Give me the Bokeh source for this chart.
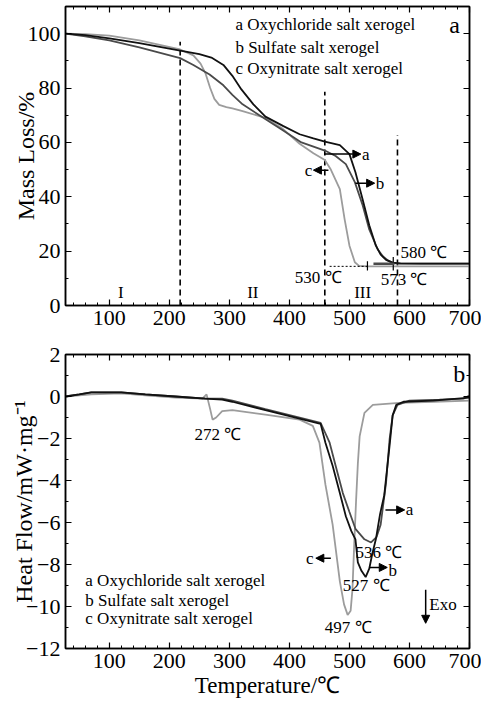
from bokeh.plotting import figure
from bokeh.layouts import column
from bokeh.models import (LinearAxis, FixedTicker, Arrow, NormalHead, Label,
                          CustomJSTickFormatter)
from bokeh.embed import file_html
from bokeh.resources import INLINE

FONT = "Liberation Serif"

# ---------------- data: TG (mass loss, %) ----------------
tg_temp_a = [27, 60, 100, 150, 218, 250, 270, 290, 305, 320, 340, 360, 390, 417, 440,
             459, 484, 500, 510, 522, 533, 544, 552, 561, 572, 585, 620, 660, 700]
tg_mass_a = [100, 99.5, 98.3, 96.5, 93.8, 92.5, 91.2, 88.5, 84.5, 79.5, 74, 69.5, 66, 63, 61.5,
             60.3, 59, 55.7, 49, 39, 29.5, 22, 18.7, 16.8, 15.8, 15.5, 15.4, 15.4, 15.4]

tg_temp_b = [27, 60, 100, 150, 218, 240, 267, 290, 305, 322, 350, 389, 420, 459, 477,
             494, 509, 522, 533, 547, 556, 564, 572, 580, 620, 700]
tg_mass_b = [100, 99, 97.5, 95, 91, 88.5, 85, 81, 77.5, 74, 70, 64.5, 60, 57, 55,
             52, 45.4, 36.9, 28, 20.7, 18, 16.6, 15.7, 15.4, 15.4, 15.4]

tg_temp_c = [27, 60, 100, 150, 218, 240, 252, 260, 268, 275, 283, 295, 305, 322, 360,
             389, 417, 440, 459, 469, 484, 492, 500, 509, 516, 530, 600, 700]
tg_mass_c = [100, 99.8, 99.3, 97.5, 94.2, 92, 89, 85.5, 80, 76, 73.8, 73, 72.5, 71.5, 69,
             65, 59.5, 56, 53.5, 50, 42.8, 31.7, 22, 15.9, 14.6, 14.4, 14.4, 14.4]

# ---------------- data: DSC (heat flow, mW/mg) ----------------
dsc_temp_a = [27, 50, 70, 120, 160, 210, 260, 288, 305, 360, 417, 452, 467, 477, 489,
              500, 510, 525, 536, 545, 552, 561, 567, 572, 580, 600, 650, 690, 700]
dsc_flow_a = [0, 0.1, 0.2, 0.2, 0.1, 0, -0.1, -0.1, -0.2, -0.6, -1.0, -1.25, -2.2, -3.3, -4.6,
              -5.5, -6.3, -6.8, -6.95, -6.7, -6.1, -4.1, -2.0, -0.9, -0.4, -0.2, -0.15, -0.1, 0.05]

dsc_temp_b = [27, 50, 70, 120, 160, 210, 260, 288, 305, 360, 417, 452, 460, 472, 484,
              494, 503, 510, 514, 520, 527, 533, 538, 544, 551, 558, 567, 572, 578, 590, 640, 700]
dsc_flow_b = [0, 0.1, 0.2, 0.2, 0.1, 0, -0.1, -0.15, -0.25, -0.65, -1.05, -1.3, -2.2, -3.3, -4.6,
              -5.7, -6.4, -6.8, -7.9, -8.3, -8.6, -8.2, -7.5, -6.8, -5.6, -4.7, -2.3, -0.9, -0.4,
              -0.25, -0.2, -0.05]

dsc_temp_c = [27, 50, 70, 120, 160, 210, 255, 262, 268, 272, 278, 288, 305, 360, 417,
              439, 450, 460, 472, 484, 491, 497, 502, 505, 508, 511, 514, 517, 525, 539,
              583, 640, 700]
dsc_flow_c = [0, 0.05, 0.1, 0.15, 0.05, -0.05, -0.1, 0.1, -0.6, -1.1, -1.0, -0.7, -0.65, -0.86, -1.1,
              -1.4, -2.2, -4.2, -6.1, -8.8, -9.9, -10.4, -10.2, -9.2, -7.0, -5.0, -3.2, -1.9, -0.78, -0.4,
              -0.3, -0.25, -0.2]

# ---------------- ticks / labels ----------------
x_ticks = [100, 200, 300, 400, 500, 600, 700]
tg_ticks = [0, 20, 40, 60, 80, 100]
dsc_ticks = [-12, -10, -8, -6, -4, -2, 0, 2]
legend_names = ["a  Oxychloride salt xerogel", "b  Sulfate salt xerogel",
                "c  Oxynitrate salt xerogel"]
stage_names = ["I", "II", "III"]
stage_bounds = [218, 459, 580]
stage_tops = [97, 78.6, 62.7]

tg_colors = ["#111111", "#4a4a4a", "#9c9c9c"]
dsc_colors = ["#4a4a4a", "#111111", "#9c9c9c"]


def style_axis(ax, show_labels=True):
    ax.axis_line_width = 1.5
    ax.axis_line_color = "black"
    ax.major_tick_in = 6
    ax.major_tick_out = 0
    ax.minor_tick_in = 3
    ax.minor_tick_out = 0
    ax.major_tick_line_width = 1.2
    ax.minor_tick_line_width = 1
    ax.major_label_text_font = FONT
    ax.major_label_text_color = "black"
    ax.axis_label_text_font = FONT
    ax.axis_label_text_font_style = "normal"
    ax.axis_label_text_color = "black"
    if show_labels:
        ax.major_label_text_font_size = "22px"
        ax.major_label_standoff = 5
    else:
        ax.major_label_text_font_size = "1px"
        ax.major_label_standoff = 0
        ax.formatter = CustomJSTickFormatter(code="return '';")


minus_fmt = "return tick < 0 ? '\\u2212' + Math.abs(tick) : '' + tick;"


def make_fig(yr, height, btop, bbot, yticks, yminor):
    p = figure(width=481, height=height, x_range=(27, 700), y_range=yr,
               output_backend="svg", toolbar_location=None,
               min_border_left=65, min_border_right=12,
               min_border_top=btop, min_border_bottom=bbot)
    p.grid.visible = False
    p.outline_line_color = "black"
    p.outline_line_width = 1.5
    bottom_ax = p.below[0]
    left_ax = p.left[0]
    bottom_ax.ticker = FixedTicker(ticks=x_ticks, minor_ticks=list(range(40, 701, 20)))
    left_ax.ticker = FixedTicker(ticks=yticks, minor_ticks=yminor)
    left_ax.formatter = CustomJSTickFormatter(code=minus_fmt)
    style_axis(bottom_ax)
    style_axis(left_ax)
    top = LinearAxis(ticker=FixedTicker(ticks=x_ticks, minor_ticks=list(range(40, 701, 20))))
    style_axis(top, False)
    p.add_layout(top, "above")
    right = LinearAxis(ticker=FixedTicker(ticks=yticks, minor_ticks=yminor))
    style_axis(right, False)
    p.add_layout(right, "right")
    return p, bottom_ax, left_ax


def add_text(p, x, y, text, size="17px", align="left", baseline="middle"):
    p.add_layout(Label(x=x, y=y, text=text, text_font=FONT, text_font_size=size,
                       text_align=align, text_baseline=baseline, text_color="black"))


def add_arrow(p, x0, y0, x1, y1):
    p.add_layout(Arrow(end=NormalHead(size=8, fill_color="black", line_color="black"),
                       x_start=x0, y_start=y0, x_end=x1, y_end=y1,
                       line_width=1.5, line_color="black"))


# ================= top panel (TG) =================
p1, bx1, ly1 = make_fig((0, 110), 340, 6, 35, tg_ticks, list(range(0, 111, 10)))
ly1.axis_label = "Mass Loss/%"
ly1.axis_label_text_font_size = "24px"
ly1.axis_label_standoff = -14

p1.segment(x0=stage_bounds, y0=[0, 0, 0], x1=stage_bounds, y1=stage_tops,
           line_color="black", line_width=1.6, line_dash="6 4")

p1.line(tg_temp_c, tg_mass_c, line_color=tg_colors[2], line_width=1.8)
p1.line(tg_temp_b, tg_mass_b, line_color=tg_colors[1], line_width=1.8)
p1.line(tg_temp_a, tg_mass_a, line_color=tg_colors[0], line_width=1.8)

# onset construction marks
p1.segment(x0=[467], y0=[14.4], x1=[530], y1=[14.4], line_color="black",
           line_width=1, line_dash="2 2")
p1.segment(x0=[530, 573], y0=[12.9, 12.9], x1=[530, 573], y1=[16.3, 17.8],
           line_color="black", line_width=1.2)
p1.segment(x0=[540], y0=[15.4], x1=[575], y1=[15.4], line_color="#4a4a4a", line_width=2.5)

for name, y in zip(legend_names, [103.3, 94.8, 87.1]):
    add_text(p1, 310, y, name)
add_text(p1, 675, 103.3, "a", size="24px", align="center")
for name, x in zip(stage_names, [119, 339, 522]):
    add_text(p1, x, 4.6, name, size="17px", align="center")
add_text(p1, 585, 19.5, "580 \u2103")
add_text(p1, 552, 9.6, "573 \u2103")
add_text(p1, 409, 10.3, "530 \u2103")

add_arrow(p1, 459, 55.7, 519, 55.7)
add_text(p1, 521, 55.7, "a")
add_arrow(p1, 510, 45, 542, 45)
add_text(p1, 544, 45, "b")
add_arrow(p1, 465, 49.8, 440, 49.8)
add_text(p1, 438, 49.8, "c", align="right")

# ================= bottom panel (DSC) =================
p2, bx2, ly2 = make_fig((-12, 2), 364, 14, 56, dsc_ticks, list(range(-12, 3, 1)))
ly2.axis_label = "Heat Flow/mW\u00b7mg\u207b\u00b9"
ly2.axis_label_text_font_size = "24px"
ly2.axis_label_standoff = -14
bx2.axis_label = "Temperature/\u2103"
bx2.axis_label_text_font_size = "23px"
bx2.axis_label_standoff = 2

p2.line(dsc_temp_c, dsc_flow_c, line_color=dsc_colors[2], line_width=1.8)
p2.line(dsc_temp_a, dsc_flow_a, line_color=dsc_colors[0], line_width=1.8)
p2.line(dsc_temp_b, dsc_flow_b, line_color=dsc_colors[1], line_width=1.8)

add_text(p2, 242, -1.8, "272 \u2103")
add_text(p2, 510, -7.43, "536 \u2103")
add_text(p2, 489, -9.0, "527 \u2103")
add_text(p2, 459, -11.0, "497 \u2103")
for name, y in zip(legend_names, [-8.76, -9.71, -10.57]):
    add_text(p2, 60, y, name)
add_text(p2, 683, 1.05, "b", size="24px", align="center")

add_arrow(p2, 560, -5.4, 592, -5.4)
add_text(p2, 594, -5.4, "a")
add_arrow(p2, 533, -8.14, 563, -8.14)
add_text(p2, 565, -8.3, "b")
add_arrow(p2, 469, -7.7, 444, -7.7)
add_text(p2, 440, -7.7, "c", align="right")
add_arrow(p2, 627, -9.2, 627, -10.8)
add_text(p2, 633, -9.9, "Exo")

layout = column(p1, p2, spacing=0)
open("out.html", "w").write(file_html(layout, INLINE))
